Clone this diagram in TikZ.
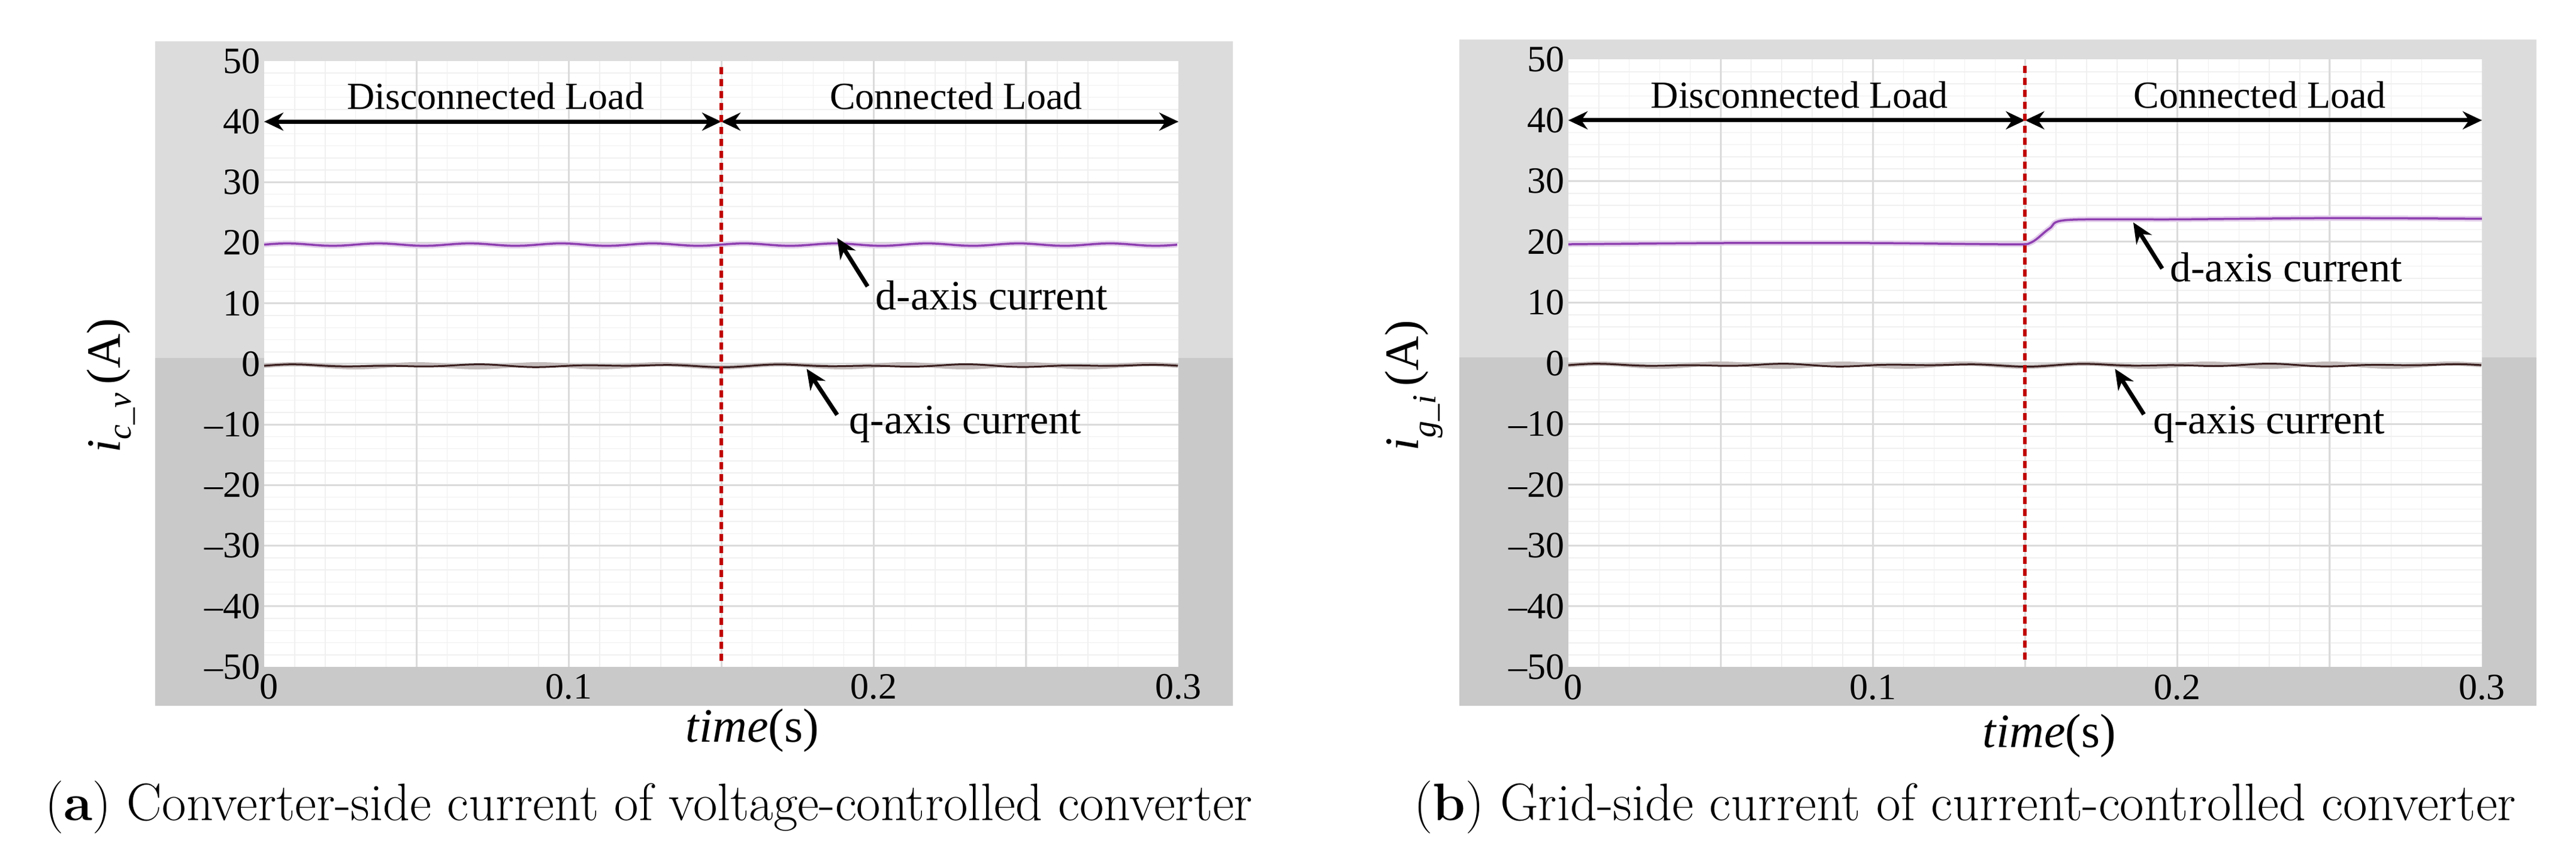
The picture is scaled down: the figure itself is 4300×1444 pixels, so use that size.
\documentclass[tikz,border=0pt]{standalone}
\usepackage{fontspec}
\newfontfamily\tms{Liberation Serif}
\usetikzlibrary{arrows.meta}
\definecolor{gA}{HTML}{DCDCDC}
\definecolor{gB}{HTML}{C9C9C9}
\definecolor{dtrace}{HTML}{8E3FB0}
\definecolor{qtrace}{HTML}{3A1E1E}
\definecolor{redd}{HTML}{C00000}
\tikzset{
  ticklab/.style={font=\tms\fontsize{62}{64}\selectfont, inner sep=0pt},
  biglab/.style={font=\tms\fontsize{64}{66}\selectfont, inner sep=0pt},
  annlab/.style={font=\tms\fontsize{70}{72}\selectfont, inner sep=0pt, anchor=west},
  axlab/.style={font=\tms\fontsize{80}{84}\selectfont, inner sep=0pt},
  caplab/.style={font=\fontsize{88}{92}\selectfont, inner sep=0pt},
  regarrow/.style={line width=7pt, {Stealth[length=32pt,width=30pt]}-{Stealth[length=32pt,width=30pt]}},
  pointer/.style={line width=7pt, -{Stealth[length=34pt,width=30pt]}},
  switchline/.style={redd, line width=6pt, dash pattern=on 12pt off 8pt},
  minorgrid/.style={black!6, line width=1.5pt},
  majorgrid/.style={black!14, line width=3pt},
}
\newcommand{\mypanel}{%
  \fill[gA] (-0.0358,1) rectangle (0.3179,53.3);
  \fill[gB] (-0.0358,-56.4) rectangle (0.3179,1);
  \fill[white] (0,-50) rectangle (0.3,50);
  \foreach \t in {0.01,0.02,...,0.29} \draw[minorgrid] (\t,-50) -- (\t,50);
  \foreach \v in {-48,-46,...,48} \draw[minorgrid] (0,\v) -- (0.3,\v);
  \foreach \t in {0.05,0.1,0.15,0.2,0.25} \draw[majorgrid] (\t,-50) -- (\t,50);
  \foreach \v in {-40,-30,...,40} \draw[majorgrid] (0,\v) -- (0.3,\v);
  \foreach \v/\l in {50/50,40/40,30/30,20/20,10/10,0/0,-10/–10,-20/–20,-30/–30,-40/–40,-50/–50}
    \node[ticklab, anchor=east] (yl\v) at (-0.0012,\v) {\l};
  \node[ticklab, anchor=north] (x0) at (0.0015,-51.2) {0};
  \node[ticklab, anchor=north] (x1) at (0.1,-51.2) {0.1};
  \node[ticklab, anchor=north] (x2) at (0.2,-51.2) {0.2};
  \node[ticklab, anchor=north] (x3) at (0.3,-51.2) {0.3};
  \draw[qtrace!30, line width=7pt] plot[domain=0:0.3, samples=150] (\x,{-0.3+0.25*sin(9000*\x)});
  \draw[qtrace, line width=3pt] plot[domain=0:0.3, samples=150] (\x,{-0.3+0.25*sin(9000*\x)*cos(2300*\x)});
  \coordinate (L) at (0,40);
  \coordinate (M) at (0.15,40);
  \coordinate (R) at (0.3,40);
  \draw[regarrow] (L) -- (M);
  \draw[regarrow] (M) -- (R);
  \node[biglab] (dis) at (0.0759,44.2) {Disconnected Load};
  \node[biglab] (con) at (0.227,44.2) {Connected Load};
}
\begin{document}
\begin{tikzpicture}[x=1pt,y=1pt]
\useasboundingbox (0,0) rectangle (4300,1444);
\fill[white] (0,0) rectangle (4300,1444);
% panel (a)
\begin{scope}[shift={(441,836)}, x=5087pt, y=10.12pt]
  \mypanel
  \draw[dtrace!25, line width=9pt] plot[domain=0:0.3, samples=120] (\x,{19.7+0.2*sin(12000*\x)});
  \draw[dtrace, line width=3.5pt] plot[domain=0:0.3, samples=120] (\x,{19.7+0.2*sin(12000*\x)});
  \draw[switchline] (0.15,49) -- (0.15,-49);
  \coordinate (dA) at (0.188,20.8);
  \coordinate (qA) at (0.178,-0.8);
  \node[annlab] (dlab) at (0.2006,11.3) {d-axis current};
  \node[annlab] (qlab) at (0.192,-10) {q-axis current};
  \draw[pointer] (0.198,12.8) -- (dA);
  \draw[pointer] (0.188,-8.4) -- (qA);
\end{scope}
\node[axlab, rotate=90] (ya) at (185,800) {{\itshape i}\textsubscript{\itshape c\_v}\,(A)};
\node[axlab] (ta) at (1256,224) {{\itshape time}(s)};
\node[caplab] (capa) at (1083,95) {(\textbf{a}) Converter-side current of voltage-controlled converter};
% panel (b)
\begin{scope}[shift={(2618,837)}, x=5083pt, y=10.15pt]
  \mypanel
  \draw[dtrace!25, line width=9pt] plot[smooth] coordinates {(0,19.6) (0.05,19.8) (0.1,19.8) (0.145,19.6) (0.152,19.9) (0.158,22.2) (0.164,23.6) (0.2,23.7) (0.25,23.9) (0.3,23.8)};
  \draw[dtrace, line width=3.5pt] plot[smooth] coordinates {(0,19.6) (0.05,19.8) (0.1,19.8) (0.145,19.6) (0.152,19.9) (0.158,22.2) (0.164,23.6) (0.2,23.7) (0.25,23.9) (0.3,23.8)};
  \draw[switchline] (0.15,49) -- (0.15,-49);
  \coordinate (dB) at (0.1855,23.2);
  \coordinate (qB) at (0.1795,-0.9);
  \node[annlab] (dlabb) at (0.1976,15.8) {d-axis current};
  \node[annlab] (qlabb) at (0.192,-10) {q-axis current};
  \draw[pointer] (0.195,15.6) -- (dB);
  \draw[pointer] (0.189,-8.4) -- (qB);
\end{scope}
\node[axlab, rotate=90] (yb) at (2360,800) {{\itshape i}\textsubscript{\itshape g\_i}\,(A)};
\node[axlab] (tb) at (3421,215) {{\itshape time}(s)};
\node[caplab] (capb) at (3280,95) {(\textbf{b}) Grid-side current of current-controlled converter};
\end{tikzpicture}
\end{document}
